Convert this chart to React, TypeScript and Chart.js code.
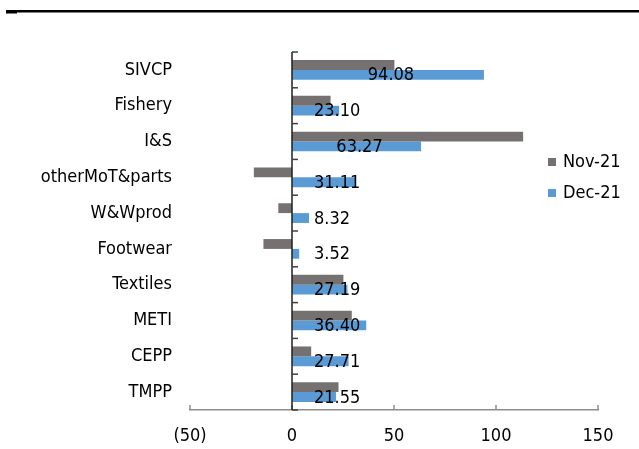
import React, { useEffect, useRef } from "react";
import { Chart, registerables } from "chart.js";
Chart.register(...registerables);

const categories = ["SIVCP", "Fishery", "I&S", "otherMoT&parts", "W&Wprod", "Footwear", "Textiles", "METI", "CEPP", "TMPP"];
const nov21 = [50.2, 18.9, 113.3, -18.7, -6.7, -14.0, 25.2, 29.3, 9.4, 22.8];
const dec21 = [94.08, 23.1, 63.27, 31.11, 8.32, 3.52, 27.19, 36.4, 27.71, 21.55];
const seriesNames = ["Nov-21", "Dec-21"];
const xMin = -50;
const xMax = 150;
const xStep = 50;

const FONT_FAMILY = '"DejaVu Sans Condensed", "DejaVu Sans", sans-serif';
const FONT = `18px ${FONT_FAMILY}`;
const GRAY = "#767171";
const BLUE = "#5B9BD5";

const decor = {
  id: "decor",
  afterDatasetsDraw(chart: any) {
    const ctx = chart.ctx;
    const ca = chart.chartArea;
    const x = chart.scales.x;
    const y = chart.scales.y;
    ctx.save();
    // top rule
    ctx.fillStyle = "#000";
    ctx.fillRect(6, 10, 633, 2.5);
    ctx.fillRect(6, 12, 11, 1.5);
    // x ticks (inside)
    ctx.strokeStyle = "#8c8c8c";
    ctx.lineWidth = 1.5;
    x.ticks.forEach((t: any) => {
      const px = x.getPixelForValue(t.value);
      ctx.beginPath();
      ctx.moveTo(px, ca.bottom);
      ctx.lineTo(px, ca.bottom - 5);
      ctx.stroke();
    });
    // zero line
    const x0 = x.getPixelForValue(0);
    ctx.strokeStyle = "#1f1f1f";
    ctx.lineWidth = 1.5;
    ctx.beginPath();
    ctx.moveTo(x0, ca.top);
    ctx.lineTo(x0, ca.bottom);
    ctx.stroke();
    // category boundary ticks
    const n = categories.length;
    ctx.strokeStyle = "#404040";
    for (let i = 0; i <= n; i++) {
      const py = i === 0 ? ca.top : i === n ? ca.bottom : (y.getPixelForValue(i - 1) + y.getPixelForValue(i)) / 2;
      ctx.beginPath();
      ctx.moveTo(x0, py);
      ctx.lineTo(x0 + 6, py);
      ctx.stroke();
    }
    // data labels for Dec-21
    const meta = chart.getDatasetMeta(1);
    ctx.font = FONT;
    ctx.fillStyle = "#000";
    ctx.textBaseline = "middle";
    ctx.textAlign = "left";
    meta.data.forEach((bar: any, i: number) => {
      const v = chart.data.datasets[1].data[i] as number;
      const txt = v.toFixed(2);
      const w = ctx.measureText(txt).width;
      const p = bar.getProps(["x", "base", "y"], true);
      const mid = (p.x + p.base) / 2;
      const left = Math.max(p.base + 22, mid - w / 2 + 3);
      ctx.fillText(txt, left, p.y + 1);
    });
    // legend
    const legendX = 548;
    const legendY = [162, 193];
    chart.data.datasets.forEach((ds: any, i: number) => {
      ctx.fillStyle = ds.backgroundColor;
      ctx.fillRect(legendX, legendY[i] - 4, 8, 8);
      ctx.fillStyle = "#000";
      ctx.fillText(ds.label, legendX + 15, legendY[i]);
    });
    ctx.restore();
  },
};

export default function App() {
  const ref = useRef<HTMLCanvasElement>(null);
  useEffect(() => {
    if (!ref.current) return;
    const chart = new Chart(ref.current, {
      type: "bar",
      data: {
        labels: categories,
        datasets: [
          { label: seriesNames[0], data: nov21, backgroundColor: GRAY, borderWidth: 0 },
          { label: seriesNames[1], data: dec21, backgroundColor: BLUE, borderWidth: 0 },
        ],
      },
      options: {
        indexAxis: "y",
        responsive: false,
        animation: false,
        events: [],
        categoryPercentage: 0.55,
        barPercentage: 1.0,
        layout: { padding: { top: 52, right: 41, bottom: 0, left: 0 } },
        plugins: { legend: { display: false }, tooltip: { enabled: false }, title: { display: false } },
        scales: {
          x: {
            type: "linear",
            min: xMin,
            max: xMax,
            grid: { display: false, drawTicks: false },
            border: { display: true, color: "#8c8c8c", width: 1.5 },
            ticks: {
              stepSize: xStep,
              padding: 16,
              color: "#000",
              font: { family: FONT_FAMILY, size: 18 },
              callback: (v: any) => (v < 0 ? `(${-v})` : `${v}`),
            },
            afterFit: (s: any) => {
              s.height = 39;
            },
          },
          y: {
            type: "category",
            grid: { display: false, drawTicks: false },
            border: { display: false },
            ticks: { padding: 18, color: "#000", font: { family: FONT_FAMILY, size: 18 } },
            afterFit: (s: any) => {
              s.width = 190;
            },
          },
        },
      } as any,
      plugins: [decor],
    });
    return () => chart.destroy();
  }, []);
  return (
    <div style={{ position: "absolute", left: 0, top: 0, width: 639, height: 449, background: "#fff" }}>
      <canvas ref={ref} width={639} height={449} />
    </div>
  );
}
